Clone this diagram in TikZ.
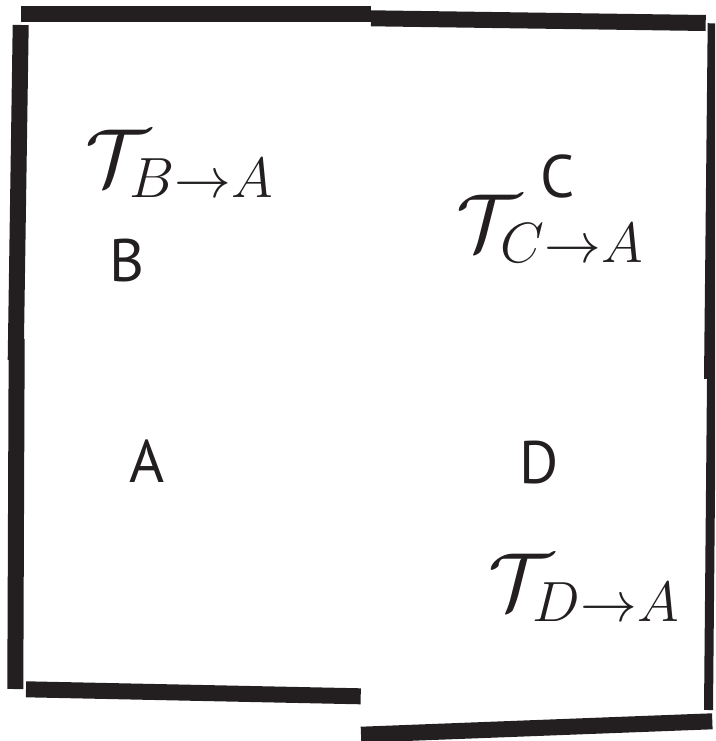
\documentclass[tikz,border=0pt]{standalone}
\usepackage{fix-cm}
\usepackage{fontspec}
\newfontfamily\lblfont{PT Sans}
\definecolor{ink}{HTML}{231F20}
\begin{document}
\begin{tikzpicture}[x=1pt,y=-1pt,
  wall/.style={line width=16pt,draw=ink},
  lbl/.style={inner sep=0pt,text=ink,font=\lblfont\fontsize{60}{70}\selectfont},
  tlbl/.style={inner sep=0pt,text=ink,font=\fontsize{81}{96}\selectfont}]
\useasboundingbox (0,0) rectangle (715,741);
\clip (0,0) rectangle (715,741);
% walls
\coordinate (t1a) at (21,14.5);   \coordinate (t1b) at (371,14.5);
\coordinate (t2a) at (371,18.3);  \coordinate (t2b) at (705.7,23);
\coordinate (l1a) at (20.7,25);   \coordinate (l1b) at (15.7,360);
\coordinate (l2a) at (16.7,339);  \coordinate (l2b) at (15.3,689);
\coordinate (b1a) at (26,689.3);  \coordinate (b1b) at (360.7,696.3);
\coordinate (b2a) at (361,734.7); \coordinate (b2b) at (712.3,721.3);
\coordinate (r1a) at (713.7,23.3); \coordinate (r1b) at (710,379);
\coordinate (r2a) at (711.5,379); \coordinate (r2b) at (708.5,710);
\draw[wall] (t1a) -- (t1b);
\draw[wall] (t2a) -- (t2b);
\draw[wall] (l1a) -- (l1b);
\draw[wall] (l2a) -- (l2b);
\draw[wall] (b1a) -- (b1b);
\draw[wall] (b2a) -- (b2b);
\draw[wall,line width=12pt] (r1a) -- (r1b);
\draw[wall,line width=9pt] (r2a) -- (r2b);
% labels
\node[lbl] (B) at (126.7,260) {B};
\node[lbl] (A) at (147,461) {A};
\node[lbl] (C) at (557.5,176) {C};
\node[lbl] (D) at (539,462.5) {D};
\node[tlbl] (TB) at (179.5,164) {$\mathcal{T}_{B\to A}$};
\node[tlbl] (TC) at (550,228.5) {$\mathcal{T}_{C\to A}$};
\node[tlbl] (TD) at (584,588) {$\mathcal{T}_{D\to A}$};
\end{tikzpicture}
\end{document}
